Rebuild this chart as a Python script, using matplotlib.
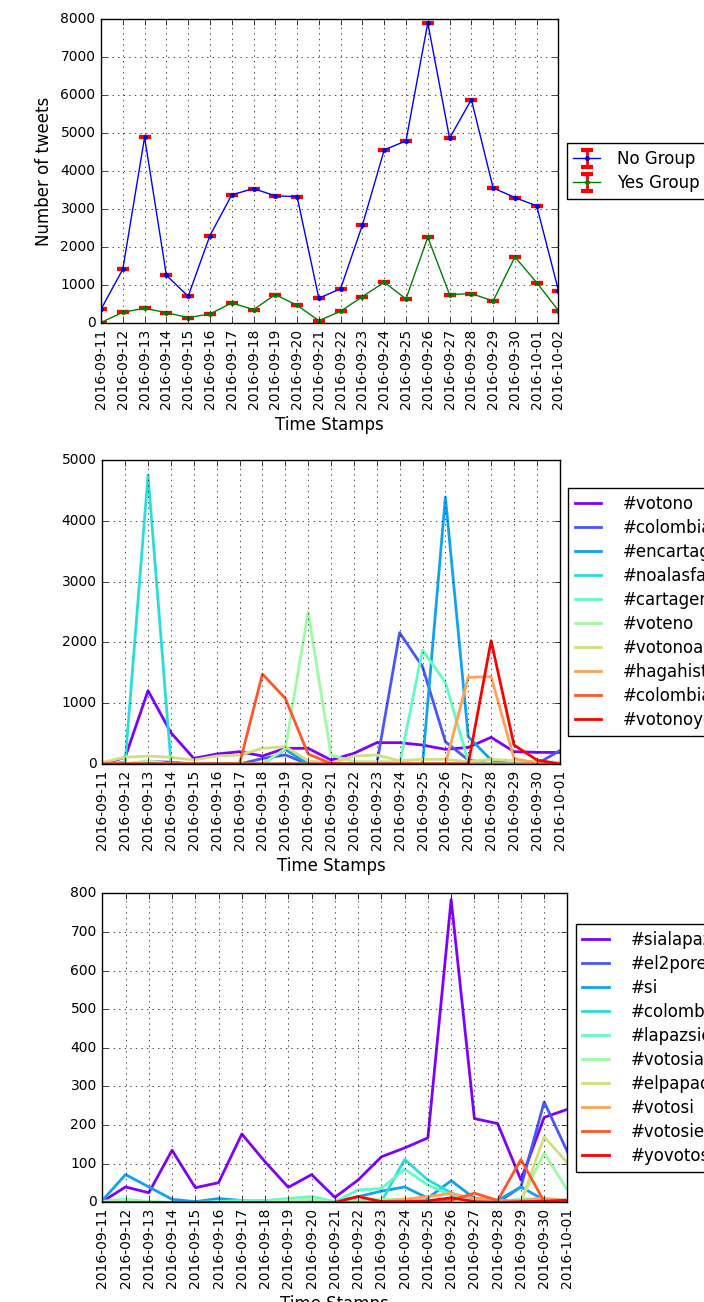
import matplotlib
matplotlib.use('Agg')
import matplotlib.pyplot as plt
import numpy as np
from matplotlib import cm

plt.style.use('classic')
plt.rcParams['legend.numpoints'] = 1
plt.rcParams['legend.labelspacing'] = 0.36
plt.rcParams['legend.handlelength'] = 1.6
plt.rcParams['legend.handletextpad'] = 1.3
plt.rcParams['xtick.labelsize'] = 10
plt.rcParams['ytick.labelsize'] = 10
plt.rcParams['axes.labelsize'] = 12
plt.rcParams['legend.fontsize'] = 12
plt.rcParams['savefig.dpi'] = 100

# fechas
dates_top = ['2016-09-11', '2016-09-12', '2016-09-13', '2016-09-14', '2016-09-15',
             '2016-09-16', '2016-09-17', '2016-09-18', '2016-09-19', '2016-09-20',
             '2016-09-21', '2016-09-22', '2016-09-23', '2016-09-24', '2016-09-25',
             '2016-09-26', '2016-09-27', '2016-09-28', '2016-09-29', '2016-09-30',
             '2016-10-01', '2016-10-02']
dates_tags = dates_top[:-1]

# tweets por grupo
no_group = [370, 1420, 4890, 1262, 710, 2305, 3374, 3541, 3348, 3330, 657,
            911, 2585, 4557, 4794, 7897, 4864, 5881, 3558, 3304, 3085, 859]
yes_group = [20, 290, 394, 280, 149, 245, 535, 359, 754, 473, 70,
             316, 701, 1078, 640, 2261, 754, 780, 587, 1744, 1069, 333]
no_err = [0] * len(no_group)
yes_err = [0] * len(yes_group)

# hashtags del no
no_tags = ['#votono', '#colombiavotano', '#encartagenavotamosno', '#noalasfarc',
           '#cartagenavotano', '#voteno', '#votonoalplebiscito',
           '#hagahistoriavotano', '#colombiadicenoalacuerdo', '#votonoyodecido']
votono = [0, 110, 1206, 515, 93, 164, 203, 132, 258, 258, 66, 175, 351, 351, 312, 241, 274, 439, 203, 192, 190]
colombiavotano = [0, 0, 40, 30, 0, 0, 0, 90, 150, 0, 0, 0, 0, 2160, 1600, 367, 66, 0, 0, 0, 220]
encartagena = [0, 0, 0, 0, 0, 0, 0, 0, 240, 0, 0, 0, 0, 0, 0, 4390, 449, 66, 0, 0, 0]
noalasfarc = [0, 30, 4753, 20, 0, 0, 0, 0, 0, 0, 0, 0, 0, 0, 0, 0, 0, 0, 0, 0, 0]
cartagenavotano = [0, 0, 0, 0, 0, 0, 0, 0, 0, 0, 0, 0, 0, 0, 1875, 1343, 40, 0, 0, 0, 0]
voteno = [0, 0, 55, 0, 0, 0, 0, 0, 250, 2495, 148, 40, 40, 40, 0, 0, 0, 0, 0, 0, 0]
votonoalplebiscito = [28, 110, 131, 110, 66, 131, 148, 258, 285, 55, 10, 131, 148, 55, 77, 77, 38, 77, 55, 40, 30]
hagahistoria = [0, 0, 0, 0, 0, 0, 0, 0, 0, 0, 0, 0, 0, 0, 0, 0, 1425, 1436, 93, 10, 0]
colombiadiceno = [0, 0, 0, 0, 0, 0, 0, 1480, 1080, 164, 10, 0, 0, 0, 0, 0, 0, 0, 0, 0, 0]
votonoyodecido = [0, 0, 0, 0, 0, 0, 0, 0, 0, 0, 0, 0, 0, 0, 0, 0, 0, 2028, 312, 66, 0]
no_series = [votono, colombiavotano, encartagena, noalasfarc, cartagenavotano,
             voteno, votonoalplebiscito, hagahistoria, colombiadiceno, votonoyodecido]

# hashtags del si
yes_tags = ['#sialapaz', '#el2porelsi', '#si', '#colombiadicesi', '#lapazsiesposible',
            '#votosialapaz', '#elpapadicesi', '#votosi', '#votosiempre', '#yovotosi']
sialapaz = [2, 40, 25, 135, 38, 51, 177, 105, 39, 72, 13, 58, 118, 141, 167, 784, 217, 204, 58, 220, 241]
el2porelsi = [0, 0, 0, 0, 0, 0, 0, 0, 0, 0, 0, 0, 0, 0, 0, 0, 0, 0, 40, 260, 131]
si = [5, 72, 40, 8, 2, 10, 5, 3, 2, 3, 2, 15, 29, 40, 11, 56, 11, 5, 40, 6, 2]
colombiadicesi = [0, 0, 0, 0, 0, 0, 0, 0, 0, 0, 0, 0, 2, 111, 58, 25, 0, 0, 0, 0, 0]
lapazsi = [3, 8, 2, 0, 0, 2, 5, 5, 10, 15, 2, 32, 36, 86, 45, 19, 5, 2, 8, 10, 5]
votosialapaz = [2, 6, 2, 0, 0, 0, 0, 0, 5, 8, 0, 5, 8, 8, 5, 5, 2, 2, 5, 128, 32]
elpapadicesi = [0, 0, 0, 0, 0, 0, 0, 0, 0, 0, 0, 0, 0, 0, 0, 0, 0, 0, 0, 170, 102]
votosi = [0, 0, 0, 0, 0, 0, 0, 0, 0, 0, 0, 0, 2, 8, 15, 23, 10, 5, 5, 10, 5]
votosiempre = [0, 0, 0, 0, 0, 0, 0, 0, 0, 0, 0, 0, 0, 0, 0, 5, 24, 5, 111, 2, 2]
yovotosi = [0, 0, 0, 0, 0, 0, 0, 0, 0, 0, 0, 15, 2, 2, 4, 12, 2, 0, 2, 3, 6]
yes_series = [sialapaz, el2porelsi, si, colombiadicesi, lapazsi,
              votosialapaz, elpapadicesi, votosi, votosiempre, yovotosi]

fig = plt.figure(figsize=(7.04, 13.02), dpi=100)
fig.patch.set_facecolor('white')

# grupos
ax1 = fig.add_axes([0.1435, 0.7517, 0.6498, 0.2338])
x = np.arange(len(dates_top))
ax1.errorbar(x, no_group, yerr=no_err, fmt='b.-', ecolor='r', capsize=4,
             capthick=3, elinewidth=2, label='No Group')
ax1.errorbar(x, yes_group, yerr=yes_err, fmt='g.-', ecolor='r', capsize=4,
             capthick=3, elinewidth=2, label='Yes Group')
ax1.set_xlim(0, len(dates_top) - 1)
ax1.set_ylim(0, 8000)
ax1.set_xticks(x)
ax1.set_xticklabels(dates_top, rotation=90)
ax1.set_ylabel('Number of tweets')
ax1.set_xlabel('Time Stamps')
ax1.grid(True)
ax1.legend(loc='center left', bbox_to_anchor=(1, 0.5), handletextpad=1.0)


def tag_plot(ax, series, labels, ymax):
    xs = np.arange(len(dates_tags))
    colors = cm.rainbow(np.linspace(0, 1, len(series)))
    for s, lab, c in zip(series, labels, colors):
        ax.plot(xs, s, color=c, lw=2, label=lab)
    ax.set_xlim(0, len(dates_tags) - 1)
    ax.set_ylim(0, ymax)
    ax.set_xticks(xs)
    ax.set_xticklabels(dates_tags, rotation=90)
    ax.set_xlabel('Time Stamps')
    ax.grid(True)
    ax.legend(loc='center left', bbox_to_anchor=(1, 0.5))


ax2 = fig.add_axes([0.1453, 0.4132, 0.6498, 0.2335])
tag_plot(ax2, no_series, no_tags, 5000)

ax3 = fig.add_axes([0.1453, 0.0765, 0.6607, 0.2374])
tag_plot(ax3, yes_series, yes_tags, 800)

plt.savefig('out.png', dpi=100)
